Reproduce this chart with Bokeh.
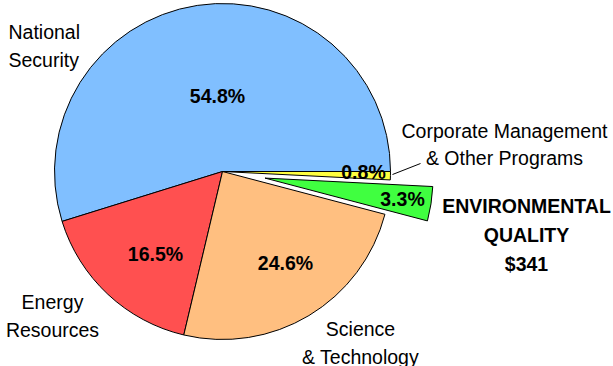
import numpy as np
from bokeh.plotting import figure
from bokeh.models import Range1d, ColumnDataSource
from bokeh.core.properties import value
from bokeh.embed import file_html
from bokeh.resources import INLINE

# Budget shares by business line (percent), counter-clockwise from 3 o'clock
categories = ["National Security", "Energy Resources", "Science & Technology",
              "Environmental Quality", "Corporate Management & Other Programs"]
shares = [54.8, 16.5, 24.6, 3.3, 0.8]
colors = ["#80BFFF", "#FF5050", "#FFBF80", "#40FF40", "#FFFF40"]
exploded = [0, 0, 0, 1, 0]

W, H = 613, 366
cx, cy, R = 222, H - 171, 168
explode_dist = 43

p = figure(width=W, height=H, x_range=Range1d(0, W), y_range=Range1d(0, H),
           toolbar_location=None, output_backend="svg", min_border=0)
p.axis.visible = False
p.grid.visible = False
p.outline_line_color = None
p.background_fill_color = "white"
p.border_fill_color = "white"

frac = np.array(shares) / sum(shares)
ends = np.cumsum(frac) * 2 * np.pi
starts = ends - frac * 2 * np.pi
mids = (starts + ends) / 2
xs = cx + np.array(exploded) * explode_dist * np.cos(mids)
ys = cy + np.array(exploded) * explode_dist * np.sin(mids)

src = ColumnDataSource(dict(x=xs, y=ys, start=starts, end=ends, color=colors))
p.wedge(x="x", y="y", radius=R, start_angle="start", end_angle="end",
        fill_color="color", line_color="black", line_width=1, source=src)

font = value("Liberation Sans")
fs = "19.5px"

# percentage labels (pixel positions, measured from the top-left)
pct_pos = [(217, 95), (155, 253), (285, 262), (402, 198), (363, 171)]
for v, (px, py) in zip(shares, pct_pos):
    p.text(x=[px], y=[H - py], text=[f"{v:.1f}%"], text_font=font,
           text_font_size=fs, text_font_style="bold", text_align="center",
           text_baseline="middle", text_color="black")

def label(lines, px, py, align="center", bold=False, step=28):
    for i, t in enumerate(lines):
        p.text(x=[px], y=[H - (py + i * step)], text=[t], text_font=font,
               text_font_size=fs, text_font_style="bold" if bold else "normal",
               text_align=align, text_baseline="middle", text_color="black")

label(["National", "Security"], 8, 31, align="left")
label(["Energy", "Resources"], 52, 301)
label(["Science", "& Technology"], 360, 328)
label(["Corporate Management", "& Other Programs"], 504, 130, step=27)
label(["ENVIRONMENTAL", "QUALITY", "$341"], 526, 205, bold=True, step=29)

# leader line for the small slice
p.line(x=[392, 420], y=[H - 174, H - 163], line_color="black", line_width=1)

open("out.html", "w").write(file_html(p, INLINE))
